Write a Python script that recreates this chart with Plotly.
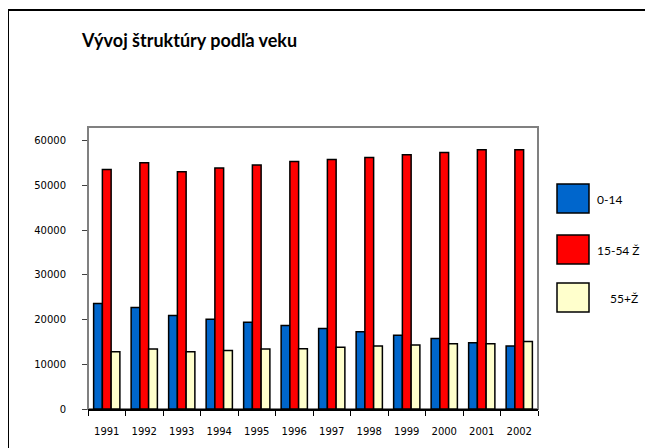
import plotly.graph_objects as go

years = ["1991", "1992", "1993", "1994", "1995", "1996", "1997", "1998", "1999", "2000", "2001", "2002"]
series_names = ["0-14", "15-54 Ž", "55+Ž"]
age_0_14 = [23600, 22700, 20900, 20100, 19400, 18700, 18000, 17300, 16500, 15800, 14800, 14100]
age_15_54 = [53600, 55100, 53100, 53900, 54600, 55400, 55800, 56300, 56900, 57400, 58000, 58000]
age_55p = [12800, 13400, 12800, 13100, 13400, 13500, 13800, 14100, 14300, 14600, 14600, 15100]
colors = ["#0066CC", "#FF0000", "#FFFFCC"]
y_ticks = [0, 10000, 20000, 30000, 40000, 50000, 60000]
y_tick_labels = ["0", "10000", "20000", "30000", "40000", "50000", "60000"]

# page body adds an 8px offset; work in figure coordinates
OFF = 8
W, H = 653 - OFF, 448 - OFF
L, R, T, B = 88 - OFF, 538 - OFF, 127 - OFF, 409 - OFF

def px(x):
    return (x - OFF - L) / (R - L)

def py(y):
    return (B - (y - OFF)) / (B - T)

fig = go.Figure()
for name, vals, col in zip(series_names, [age_0_14, age_15_54, age_55p], colors):
    fig.add_trace(go.Bar(
        x=years, y=vals, name=name,
        marker=dict(color=col, line=dict(color="black", width=1.5)),
        showlegend=False,
    ))

shapes = [
    # outer frame
    dict(type="rect", xref="paper", yref="paper", x0=px(8), x1=px(680), y0=py(480), y1=py(10),
         line=dict(color="black", width=2), fillcolor="rgba(0,0,0,0)", layer="below"),
    # plot-area border
    dict(type="rect", xref="paper", yref="paper", x0=0, x1=1, y0=0, y1=1,
         line=dict(color="#808080", width=2), fillcolor="rgba(0,0,0,0)", layer="below"),
]
annotations = [
    dict(text="<b>Vývoj štruktúry podľa veku</b>", xref="paper", yref="paper",
         x=px(79), y=py(40), xanchor="left", yanchor="middle", showarrow=False,
         font=dict(family="Lato", size=18, color="black")),
]
box_tops = [184, 235, 283]
label_x = [595, 595, 608]
for i, (name, col) in enumerate(zip(series_names, colors)):
    t = box_tops[i]
    shapes.append(dict(type="rect", xref="paper", yref="paper",
                       x0=px(557), x1=px(589), y0=py(t + 29), y1=py(t),
                       line=dict(color="black", width=1.5), fillcolor=col))
    annotations.append(dict(text=name, xref="paper", yref="paper",
                            x=px(label_x[i]), y=py(t + 15), xanchor="left", yanchor="middle",
                            showarrow=False, font=dict(family="Lato", size=12, color="black")))

fig.update_layout(
    width=W, height=H,
    margin=dict(l=L, r=W - R, t=T, b=H - B, pad=0),
    paper_bgcolor="white", plot_bgcolor="white",
    barmode="group", bargap=0.3, bargroupgap=0,
    shapes=shapes, annotations=annotations,
    xaxis=dict(type="category", showgrid=False, showline=True, linecolor="black", linewidth=1.5,
               ticks="outside", tickson="boundaries", ticklen=5, tickcolor="black",
               tickfont=dict(family="DejaVu Sans", size=10, color="black"),
               ticklabelstandoff=12),
    yaxis=dict(range=[0, 63100], tickvals=y_ticks, ticktext=y_tick_labels, showgrid=False,
               zeroline=False, showline=False, ticks="outside", ticklen=5, tickcolor="#404040",
               tickfont=dict(family="DejaVu Sans", size=10, color="black"),
               ticklabelstandoff=14),
)

fig.write_html("out.html")
